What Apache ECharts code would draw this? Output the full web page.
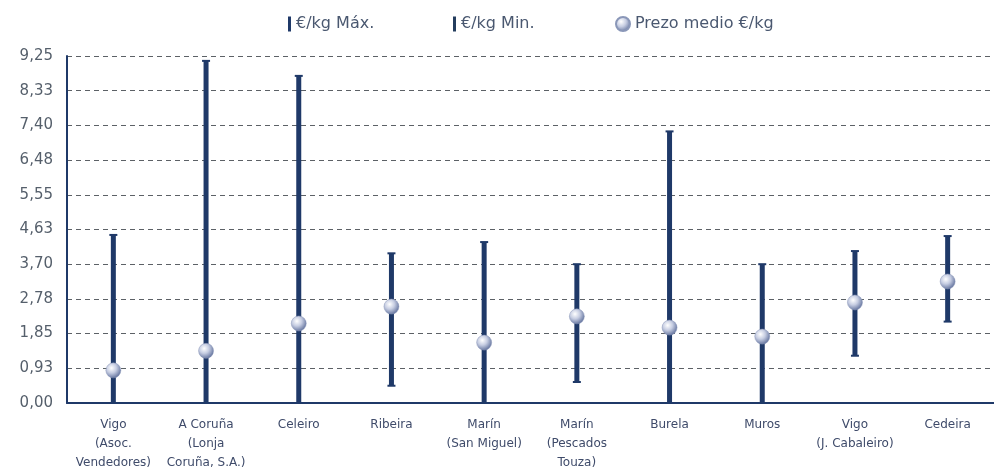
<!DOCTYPE html>
<html><head><meta charset="utf-8">
<script src="https://cdn.jsdelivr.net/npm/echarts@6/dist/echarts.min.js"></script>
<style>html,body{margin:0;padding:0;background:#fff}#c{width:994px;height:475px}</style>
</head><body><div id="c"></div>
<script>
const categories = ["Vigo\n(Asoc.\nVendedores)", "A Coruña\n(Lonja\nCoruña, S.A.)", "Celeiro", "Ribeira", "Marín\n(San Miguel)", "Marín\n(Pescados\nTouza)", "Burela", "Muros", "Vigo\n(J. Cabaleiro)", "Cedeira"];
const maxValues = [4.48, 9.12, 8.72, 3.99, 4.29, 3.70, 7.24, 3.70, 4.05, 4.45];
const minValues = [0.00, 0.00, 0.00, 0.46, 0.00, 0.56, 0.00, 0.00, 1.26, 2.17];
const meanValues = [0.87, 1.39, 2.12, 2.57, 1.61, 2.31, 2.01, 1.77, 2.68, 3.24];
const yTickLabels = ["0,00", "0,93", "1,85", "2,78", "3,70", "4,63", "5,55", "6,48", "7,40", "8,33", "9,25"];

const NAVY = '#1f3968';
const FONT = 'DejaVu Sans, sans-serif';
const rangeData = categories.map((c, i) => [i, minValues[i], maxValues[i]]);
const minData = categories.map((c, i) => [i, minValues[i]]);

const sphere = {
  type: 'radial', x: 0.38, y: 0.35, r: 0.7,
  colorStops: [{offset: 0, color: '#ffffff'}, {offset: 0.45, color: '#c6cde2'}, {offset: 1, color: '#5b6c98'}]
};

const chart = echarts.init(document.getElementById('c'));
const legendText = {color: '#4a5870', fontSize: 16, fontFamily: FONT};
chart.setOption({
  backgroundColor: '#fff',
  animation: false,
  legend: [
    {data: [{name: '€/kg Máx.', icon: 'rect'}], left: 283, top: 11, itemWidth: 3, itemHeight: 15, textStyle: legendText},
    {data: [{name: '€/kg Min.', icon: 'rect'}], left: 448, top: 11, itemWidth: 3, itemHeight: 15, textStyle: legendText},
    {data: [{name: 'Prezo medio €/kg', icon: 'circle'}], left: 610, top: 11, itemWidth: 14, itemHeight: 14, textStyle: legendText}
  ],
  grid: {left: 67, top: 56, width: 935, height: 347},
  xAxis: {
    type: 'category', data: categories,
    boundaryGap: true,
    axisLine: {lineStyle: {color: NAVY, width: 2}},
    axisTick: {inside: true, length: 5, lineStyle: {color: NAVY, width: 1.5}},
    axisLabel: {interval: 0, color: '#3f4b6a', fontSize: 12, lineHeight: 19, margin: 12, fontFamily: FONT}
  },
  yAxis: {
    type: 'value', min: 0, max: 9.25, interval: 0.925,
    axisLine: {show: true, lineStyle: {color: NAVY, width: 2}},
    axisTick: {show: false},
    axisLabel: {
      color: '#555f6b', fontSize: 15, margin: 14, fontFamily: FONT, padding: [6, 0, 0, 0],
      formatter: v => yTickLabels[Math.round(v / 0.925)]
    },
    splitLine: {show: true, lineStyle: {color: '#5c6166', type: [5, 4], width: 1}}
  },
  series: [
    {
      name: '€/kg Máx.', type: 'custom', data: rangeData, encode: {x: 0, y: [1, 2]},
      itemStyle: {color: NAVY}, z: 2,
      renderItem: (params, api) => {
        const top = api.coord([api.value(0), api.value(2)]);
        const bot = api.coord([api.value(0), api.value(1)]);
        return {type: 'group', children: [
          {type: 'rect', shape: {x: top[0] - 2.5, y: top[1], width: 5, height: bot[1] - top[1]}, style: {fill: NAVY}},
          {type: 'rect', shape: {x: top[0] - 4, y: top[1] - 1, width: 8, height: 2}, style: {fill: NAVY}}
        ]};
      }
    },
    {
      name: '€/kg Min.', type: 'custom', data: minData, encode: {x: 0, y: 1},
      itemStyle: {color: '#243d5e'}, z: 2,
      renderItem: (params, api) => {
        const p = api.coord([api.value(0), api.value(1)]);
        return {type: 'rect', shape: {x: p[0] - 4, y: p[1] - 1, width: 8, height: 2}, style: {fill: NAVY}};
      }
    },
    {
      name: 'Prezo medio €/kg', type: 'scatter', data: meanValues, symbol: 'circle', symbolSize: 15, z: 5,
      itemStyle: {color: sphere, borderColor: '#8a97b8', borderWidth: 0.5, opacity: 1}
    }
  ]
});
</script></body></html>
